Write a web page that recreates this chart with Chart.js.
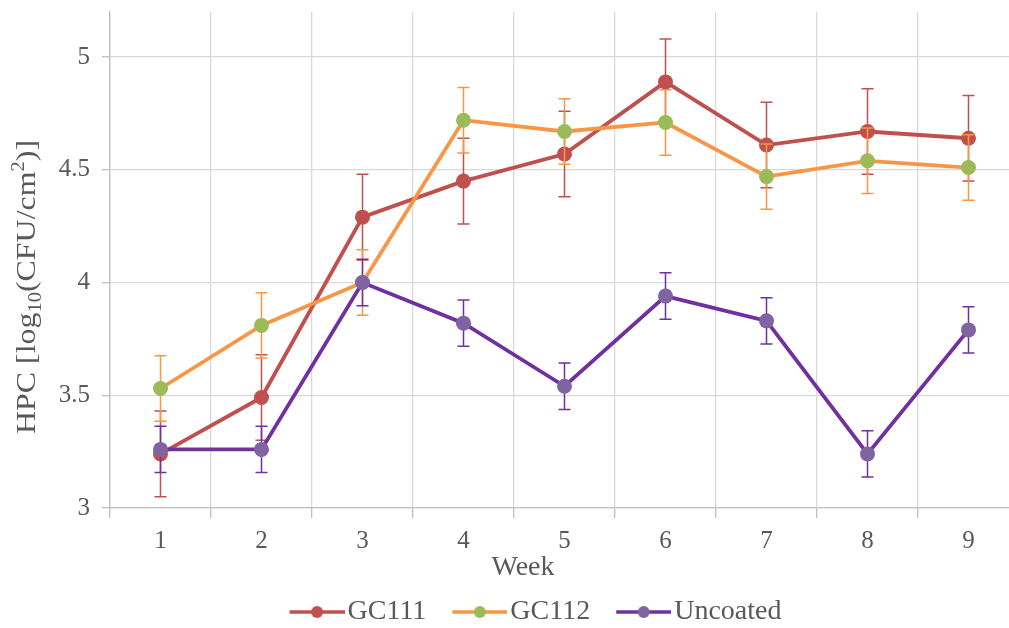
<!DOCTYPE html>
<html>
<head>
<meta charset="utf-8">
<script src="https://cdn.jsdelivr.net/npm/chart.js@4/dist/chart.umd.min.js"></script>
<style>
  html, body { margin: 0; padding: 0; background: #fff; overflow: hidden; }
  #wrap { width: 1009px; height: 628px; overflow: hidden; }
</style>
</head>
<body>
<div id="wrap"><canvas id="chart" width="1030" height="628"></canvas></div>
<script>
// Weekly heterotrophic plate counts (log10 CFU/cm2) with standard deviations
const weeks = ['1', '2', '3', '4', '5', '6', '7', '8', '9'];

const gc111    = [3.24, 3.49, 4.29, 4.45, 4.57, 4.89, 4.61, 4.67, 4.64];
const gc111Sd  = [0.19, 0.19, 0.19, 0.19, 0.19, 0.19, 0.19, 0.19, 0.19];

const gc112    = [3.53, 3.81, 4.00, 4.72, 4.67, 4.71, 4.47, 4.54, 4.51];
const gc112Sd  = [0.145, 0.145, 0.145, 0.145, 0.145, 0.145, 0.145, 0.145, 0.145];

const uncoated   = [3.26, 3.26, 4.00, 3.82, 3.54, 3.94, 3.83, 3.24, 3.79];
const uncoatedSd = [0.103, 0.103, 0.103, 0.103, 0.103, 0.103, 0.103, 0.103, 0.103];

const yTickValues = [3, 3.5, 4, 4.5, 5];

const FONT = 'Liberation Serif';
const TEXT = '#595959';
const GRID = '#D9D9D9';
const AXIS = '#BFBFBF';

// Legend swatch: line segment with a round marker in the middle
function legendIcon(lineColor, markerColor) {
  const c = document.createElement('canvas');
  c.width = 82; c.height = 16;
  const g = c.getContext('2d');
  g.strokeStyle = lineColor;
  g.lineWidth = 3.5;
  g.beginPath(); g.moveTo(27, 8); g.lineTo(82, 8); g.stroke();
  g.fillStyle = markerColor;
  g.beginPath(); g.arc(54.5, 8, 6, 0, Math.PI * 2); g.fill();
  return c;
}

// Vertical error bars, drawn under each series' line and markers
const errorBarPlugin = {
  id: 'errorBars',
  beforeDatasetDraw(chart, args) {
    const ds = chart.data.datasets[args.index];
    if (!ds.errorBars) return;
    const y = chart.scales.y;
    const ctx = chart.ctx;
    ctx.save();
    ctx.strokeStyle = ds.errorColor;
    ctx.lineWidth = 1.5;
    args.meta.data.forEach((pt, i) => {
      const v = ds.data[i], e = ds.errorBars[i];
      const top = y.getPixelForValue(v + e);
      const bot = y.getPixelForValue(v - e);
      ctx.beginPath();
      ctx.moveTo(pt.x, top); ctx.lineTo(pt.x, bot);
      ctx.moveTo(pt.x - 6, top); ctx.lineTo(pt.x + 6, top);
      ctx.moveTo(pt.x - 6, bot); ctx.lineTo(pt.x + 6, bot);
      ctx.stroke();
    });
    ctx.restore();
  }
};

// Axis titles, including the subscript/superscript in the y title
const axisTitlePlugin = {
  id: 'axisTitles',
  afterLayout(chart) {
    const lg = chart.legend;
    if (lg) { lg.left += 18; lg.right += 18; }
  },
  afterDraw(chart) {
    const ctx = chart.ctx;
    ctx.save();
    ctx.fillStyle = TEXT;
    // x title
    ctx.font = `28px "${FONT}"`;
    ctx.textAlign = 'center';
    ctx.textBaseline = 'middle';
    ctx.fillText('Week', 523, 568);

    // y title, rotated
    const parts = [
      { t: 'HPC [log', size: 28, dy: 0 },
      { t: '10', size: 18, dy: 6 },
      { t: '(CFU/cm', size: 28, dy: 0 },
      { t: '2', size: 18, dy: -11 },
      { t: ')]', size: 28, dy: 0 }
    ];
    let total = 0;
    parts.forEach(p => { ctx.font = `${p.size}px "${FONT}"`; p.w = ctx.measureText(p.t).width; total += p.w; });
    ctx.translate(26, 287);
    ctx.rotate(-Math.PI / 2);
    ctx.scale(1.14, 1);
    ctx.textAlign = 'left';
    ctx.textBaseline = 'alphabetic';
    let x = -total / 2;
    parts.forEach(p => {
      ctx.font = `${p.size}px "${FONT}"`;
      ctx.fillText(p.t, x, 9 + p.dy);
      x += p.w;
    });
    ctx.restore();
  }
};

const datasets = [
  { label: 'GC111', data: gc111, errorBars: gc111Sd, errorColor: '#C0504D',
    borderColor: '#C0504D', pointBackgroundColor: '#C0504D', pointBorderColor: '#C0504D', order: 3 },
  { label: 'GC112', data: gc112, errorBars: gc112Sd, errorColor: '#F79646',
    borderColor: '#F79646', pointBackgroundColor: '#9BBB59', pointBorderColor: '#9BBB59', order: 2 },
  { label: 'Uncoated', data: uncoated, errorBars: uncoatedSd, errorColor: '#7030A0',
    borderColor: '#7030A0', pointBackgroundColor: '#8064A2', pointBorderColor: '#8064A2', order: 1 }
].map(d => Object.assign({
  borderWidth: 3.8, pointRadius: 7.5, pointBorderWidth: 0, pointHoverRadius: 7.5,
  tension: 0, fill: false
}, d));

new Chart(document.getElementById('chart'), {
  type: 'line',
  data: { labels: weeks, datasets },
  plugins: [errorBarPlugin, axisTitlePlugin],
  options: {
    responsive: false,
    devicePixelRatio: 1,
    animation: false,
    layout: { padding: { top: 12, right: 11, left: 0, bottom: 0 } },
    plugins: {
      tooltip: { enabled: false },
      legend: {
        position: 'bottom',
        maxHeight: 40,
        labels: {
          usePointStyle: true,
          pointStyleWidth: 60,
          padding: 10,
          color: TEXT,
          font: { family: FONT, size: 28 },
          generateLabels: chart => chart.data.datasets.map((ds, i) => ({
            text: ds.label,
            pointStyle: legendIcon(ds.borderColor, ds.pointBackgroundColor),
            datasetIndex: i,
            fontColor: TEXT,
            fillStyle: 'transparent',
            strokeStyle: 'transparent',
            lineWidth: 0,
            hidden: false
          }))
        }
      }
    },
    scales: {
      x: {
        offset: true,
        grid: { offset: true, color: GRID, lineWidth: 1.3, tickLength: 10, tickColor: AXIS },
        border: { color: AXIS, width: 1.3 },
        ticks: { color: TEXT, font: { family: FONT, size: 25 }, padding: 8, maxRotation: 0 },
        afterFit: s => { s.height = 80; s.paddingLeft = 0; s.paddingRight = 0; }
      },
      y: {
        min: 3,
        max: 5.2,
        afterBuildTicks: s => { s.ticks = yTickValues.map(v => ({ value: v })); },
        grid: { color: GRID, lineWidth: 1.3, tickLength: 8, tickColor: AXIS },
        border: { color: AXIS, width: 1.3 },
        ticks: { color: TEXT, font: { family: FONT, size: 25 }, padding: 12,
                 callback: v => String(v) },
        afterFit: s => { s.width = 110; s.paddingTop = 0; s.paddingBottom = 0; }
      }
    }
  }
});
</script>
</body>
</html>
